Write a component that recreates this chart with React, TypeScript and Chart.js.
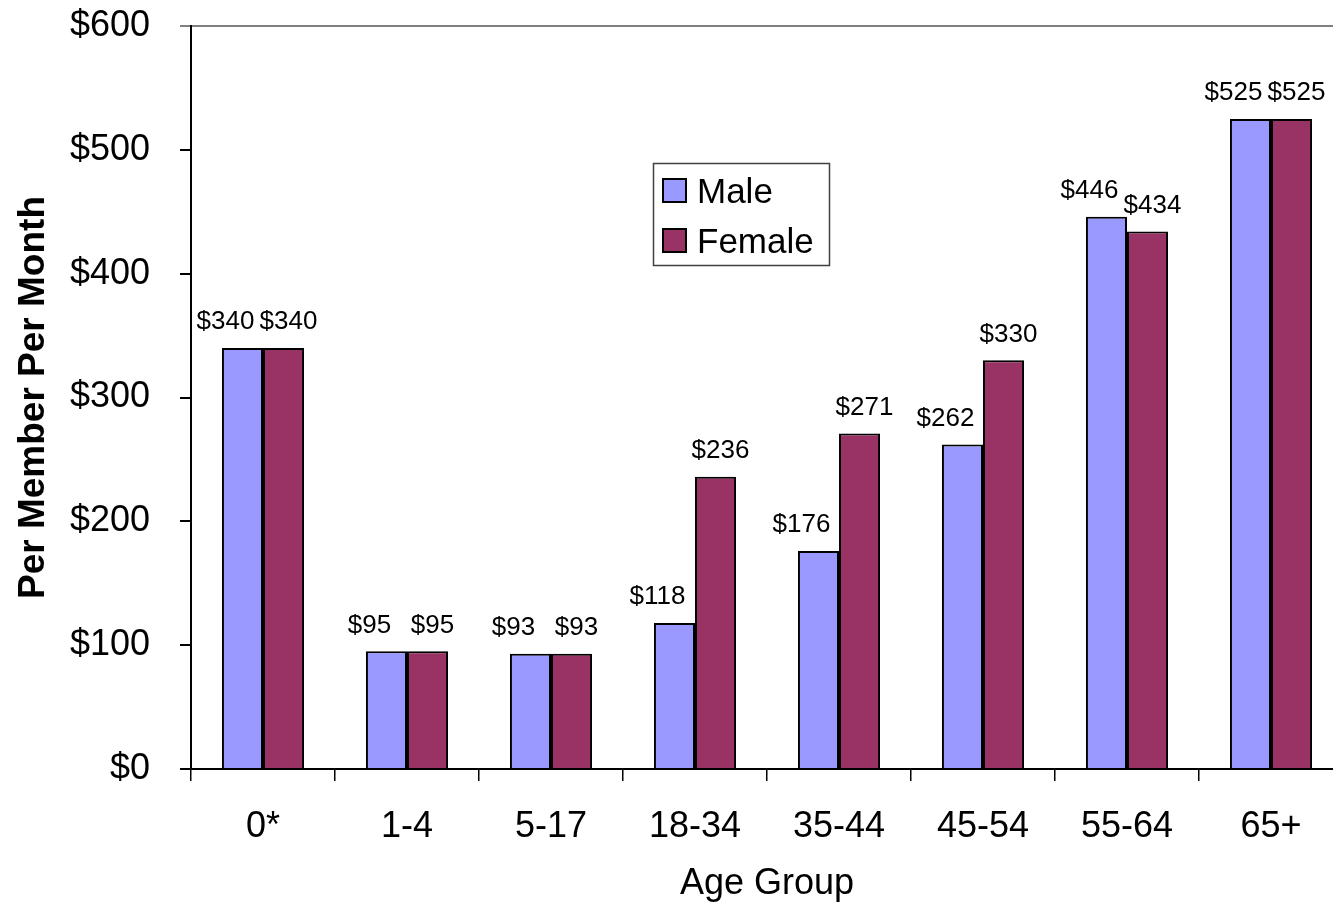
import React, { useEffect, useRef } from "react";
import { Chart, registerables } from "chart.js";

Chart.register(...registerables);

const categories = ["0*", "1-4", "5-17", "18-34", "35-44", "45-54", "55-64", "65+"];
const maleValues = [340, 95, 93, 118, 176, 262, 446, 525];
const femaleValues = [340, 95, 93, 236, 271, 330, 434, 525];
const seriesNames = ["Male", "Female"];
const seriesColors = ["#9999FF", "#993366"];
const labelShift = [-17, 5];
const yTickMax = 600;
const yTickStep = 100;

const FONT = "'Liberation Sans', Arial, sans-serif";

const dataLabelPlugin = {
  id: "dataLabels",
  afterDatasetsDraw(chart: any) {
    const ctx = chart.ctx;
    ctx.save();
    ctx.font = `26px ${FONT}`;
    ctx.fillStyle = "#000";
    ctx.textAlign = "center";
    ctx.textBaseline = "middle";
    chart.data.datasets.forEach((ds: any, i: number) => {
      const meta = chart.getDatasetMeta(i);
      meta.data.forEach((el: any, j: number) => {
        ctx.fillText("$" + ds.data[j], el.x + labelShift[i], el.y - 26);
      });
    });
    ctx.restore();
  },
};

const legendPlugin = {
  id: "boxLegend",
  afterDraw(chart: any) {
    const ctx = chart.ctx;
    ctx.save();
    const x0 = 653, y0 = 163, w = 176, h = 102;
    ctx.fillStyle = "#fff";
    ctx.fillRect(x0, y0, w, h);
    ctx.strokeStyle = "#404040";
    ctx.lineWidth = 1.5;
    ctx.strokeRect(x0 + 0.5, y0 + 0.5, w, h);
    ctx.font = `35px ${FONT}`;
    ctx.textBaseline = "alphabetic";
    ctx.textAlign = "left";
    seriesNames.forEach((name, i) => {
      const sy = y0 + 16 + i * 50;
      ctx.fillStyle = seriesColors[i];
      ctx.fillRect(x0 + 10, sy, 23, 23);
      ctx.strokeStyle = "#000";
      ctx.lineWidth = 2;
      ctx.strokeRect(x0 + 10, sy, 23, 23);
      ctx.fillStyle = "#000";
      ctx.fillText(name, x0 + 44, y0 + 40 + i * 50);
    });
    ctx.restore();
  },
};

export default function App() {
  const ref = useRef<HTMLCanvasElement | null>(null);
  useEffect(() => {
    document.body.style.margin = "0";
    if (!ref.current) return;
    const chart = new Chart(ref.current, {
      type: "bar",
      data: {
        labels: categories,
        datasets: [
          {
            label: seriesNames[0],
            data: maleValues,
            backgroundColor: seriesColors[0],
            borderColor: "#000",
            borderWidth: 2,
            categoryPercentage: 0.57,
            barPercentage: 1,
          },
          {
            label: seriesNames[1],
            data: femaleValues,
            backgroundColor: seriesColors[1],
            borderColor: "#000",
            borderWidth: 2,
            categoryPercentage: 0.57,
            barPercentage: 1,
          },
        ],
      },
      options: {
        responsive: false,
        animation: false,
        maintainAspectRatio: false,
        layout: { padding: { top: 26, left: 0, right: 0, bottom: 0 } },
        plugins: {
          legend: { display: false },
          tooltip: { enabled: false },
        },
        scales: {
          x: {
            grid: {
              drawOnChartArea: false,
              offset: true,
              color: "#000",
              tickColor: "#000",
              tickLength: 12,
              lineWidth: 1.5,
            },
            border: { color: "#000", width: 2 },
            ticks: {
              color: "#000",
              font: { family: FONT, size: 36 },
              padding: 24,
              maxRotation: 0,
            },
            title: {
              display: true,
              text: "Age Group",
              color: "#000",
              font: { family: FONT, size: 36, lineHeight: 1 },
              padding: { top: 0, bottom: 2 },
            },
            afterFit(scale: any) {
              scale.height = 135;
              scale.paddingLeft = 0;
              scale.paddingRight = 0;
            },
          },
          y: {
            min: 0,
            max: yTickMax,
            grid: {
              color: (c: any) => (c.tick && c.tick.value === yTickMax ? "#808080" : "rgba(0,0,0,0)"),
              tickColor: (c: any) => (c.tick && c.tick.value === yTickMax ? "#808080" : "#000"),
              tickLength: 11,
              lineWidth: 2,
            },
            border: { color: "#000", width: 2 },
            ticks: {
              stepSize: yTickStep,
              color: "#000",
              font: { family: FONT, size: 36 },
              padding: 30,
              callback: (v: any) => "$" + v,
            },
            title: {
              display: true,
              text: "Per Member Per Month",
              color: "#000",
              font: { family: FONT, size: 37, weight: "bold" },
              padding: { top: 12, bottom: 0 },
            },
            afterFit(scale: any) {
              scale.width = 191;
              scale.paddingTop = 0;
              scale.paddingBottom = 0;
            },
          },
        },
      },
      plugins: [dataLabelPlugin, legendPlugin],
    });
    return () => chart.destroy();
  }, []);

  return (
    <div style={{ width: 1333, height: 904, overflow: "hidden", position: "relative", background: "#fff" }}>
      <canvas ref={ref} width={1343} height={904} style={{ display: "block" }} />
    </div>
  );
}
